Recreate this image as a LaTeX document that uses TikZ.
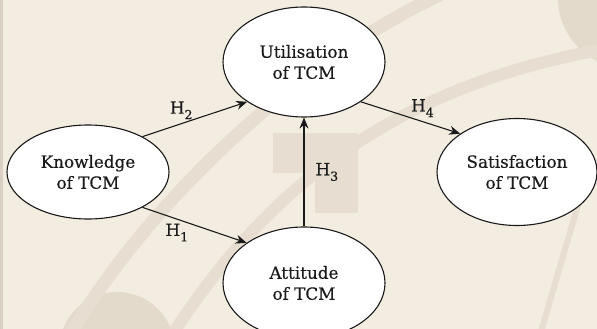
\documentclass[tikz,border=0pt]{standalone}
\usepackage{fontspec}
\setmainfont{DejaVu Serif}[FakeBold=0.35]
\usetikzlibrary{shapes.geometric,arrows.meta}
\definecolor{bgc}{HTML}{F3ECE1}
\definecolor{decoc}{HTML}{E7DED1}
\definecolor{blobc}{HTML}{E4DACC}
\definecolor{edgec}{HTML}{D9D0C3}
\definecolor{inkc}{HTML}{1A1A1A}
\newcommand{\hyp}[1]{H\raisebox{-0.33em}{\fontsize{12.5}{12}\selectfont #1}}
\tikzset{
  construct/.style={ellipse, draw=inkc, line width=1.1pt, fill=white, inner sep=0pt,
    align=center, text=inkc, font=\fontsize{16.8}{21}\selectfont},
  link/.style={draw=inkc, line width=1.1pt, -{Stealth[length=11pt,width=9pt]}},
  hlabel/.style={text=inkc, font=\fontsize{16.8}{18}\selectfont, inner sep=1pt},
  band/.style={draw=decoc, line cap=butt}
}
\begin{document}
\begin{tikzpicture}[x=1pt,y=-1pt]
\useasboundingbox (0,0) rectangle (597,329);
\fill[bgc] (0,0) rectangle (597,329);
\begin{scope}
\clip (0,0) rectangle (597,329);
\fill[edgec] (0,0) rectangle (3,329);
\fill[blobc] (117,350) circle (58);
\fill[blobc] (628,-2) circle (70);
\draw[band, line width=13pt] (70,335) .. controls (150,200) and (300,60) .. (440,-5);
\draw[band, line width=12pt] (172,335) .. controls (260,200) and (380,90) .. (600,50);
\draw[band, line width=6pt] (578,205) -- (540,335);
\fill[decoc] (273,133) rectangle (358,173);
\fill[decoc] (315,133) rectangle (358,213);
\end{scope}
\node[construct, minimum width=162pt, minimum height=110pt] (U) at (304,62) {Utilisation\\of TCM};
\node[construct, minimum width=162pt, minimum height=94pt] (K) at (88,172) {Knowledge\\of TCM};
\node[construct, minimum width=160pt, minimum height=107pt] (S) at (517,172) {Satisfaction\\of TCM};
\node[construct, minimum width=162pt, minimum height=112pt] (A) at (304,283) {Attitude\\of TCM};
\draw[link] (K.33) -- node[hlabel, pos=0.37, above=3pt] {\hyp{2}} (U.215);
\draw[link] (K.-33) -- node[hlabel, pos=0.33, below=3pt] {\hyp{1}} (A.145);
\draw[link] (A.north) -- node[hlabel, right=10pt] {\hyp{3}} (U.south);
\draw[link] (U.-35) -- node[hlabel, pos=0.62, above=3pt] {\hyp{4}} (S.146);
\end{tikzpicture}
\end{document}
